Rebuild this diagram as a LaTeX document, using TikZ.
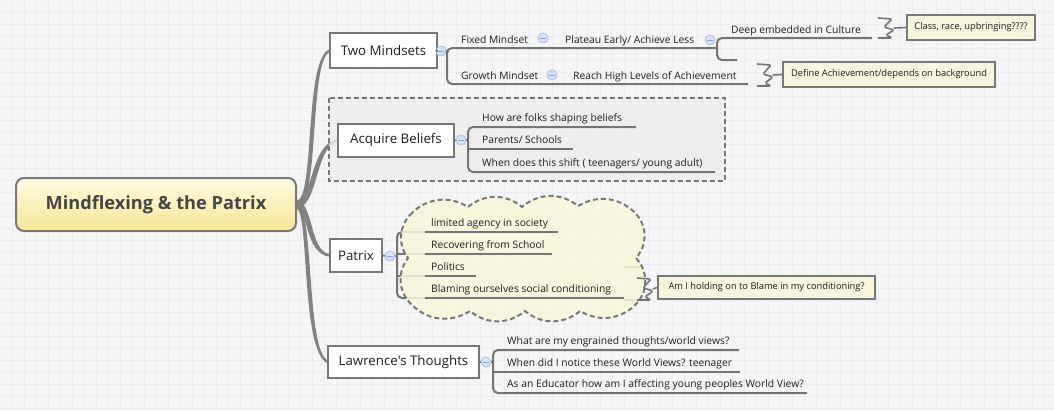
\documentclass[tikz,border=0pt]{standalone}
\usepackage{fontspec}
\setmainfont{Open Sans}[Ligatures=TeXOff]
\usetikzlibrary{calc}
\definecolor{bgc}{HTML}{F5F5F5}
\definecolor{gridc}{HTML}{E6EDF4}
\definecolor{lc}{HTML}{747474}
\definecolor{bc}{HTML}{777777}
\definecolor{tc}{HTML}{1E1E1E}
\definecolor{rootc}{HTML}{454545}
\definecolor{rtop}{HTML}{FEFBE3}
\definecolor{rbot}{HTML}{F6E695}
\definecolor{callfill}{HTML}{F6F4DC}
\definecolor{cloudfill}{HTML}{F8F6DA}
\definecolor{boundfill}{HTML}{EDEDED}
\definecolor{cfill}{HTML}{D8E3F7}
\definecolor{cdraw}{HTML}{A9BEE6}
\definecolor{cminus}{HTML}{86A3DA}
\definecolor{trunkc}{HTML}{828282}
\pgfdeclarelayer{back}
\pgfdeclarelayer{mid}
\pgfdeclarelayer{bound}
\pgfsetlayers{back,mid,bound,main}
\tikzset{
  conn/.style={draw=lc, line width=2pt, rounded corners=5pt},
  trunk/.style={fill=trunkc},
  root/.style={draw=bc, line width=2pt, rounded corners=8pt, top color=rtop, bottom color=rbot,
    minimum width=280pt, minimum height=53pt, inner sep=0pt, text=rootc,
    font=\bfseries\fontsize{18.2}{20}\selectfont},
  topic/.style={draw=bc, line width=2pt, fill=white, inner sep=0pt, text=tc,
    font=\fontsize{13.3}{15}\selectfont},
  sub/.style={anchor=base west, inner sep=0pt, text=tc, font=\fontsize{10.3}{12}\selectfont},
  callout/.style={draw=bc, line width=2pt, fill=callfill, inner sep=0pt, text=tc,
    font=\fontsize{9.3}{11}\selectfont},
  coll/.style={circle, minimum size=10pt, inner sep=0pt, fill=cfill, draw=cdraw, line width=0.8pt,
    path picture={\draw[cminus, line width=1pt] ([xshift=-2.6pt]path picture bounding box.center) -- ([xshift=2.6pt]path picture bounding box.center);}},
  zz/.style={draw=lc, line width=1.6pt, rounded corners=1.5pt},
  boundary/.style={draw=bc, line width=2pt, dash pattern=on 5pt off 3pt, fill=boundfill, fill opacity=0.8},
  cloudb/.style={draw=bc, line width=2pt, dash pattern=on 5pt off 3pt, fill=cloudfill, fill opacity=0.85}
}
\newcommand\myzig[4]{% name, x0, ytop, ybot
  \coordinate (#1) at ({#2+16},{(#3+#4)/2});
  \draw[zz] (#2,#3) -- ({#2+14},{#3+1}) -- ({#2+6},{(#3+#4)/2-1}) -- ({#2+16},{(#3+#4)/2+2})
    -- ({#2+8},{#4-3}) -- ({#2+14},{#4}) -- (#2,#4);
}
% tapered trunk connector: target, c1x, c1y, c2x, c2y, sign (-1 up, 1 down)
\newcommand\ribbon[6]{%
  \fill[trunk] ($(root.east)+(-1,-3.6)$) .. controls ({#2+#6*2.5},{#3-3.6}) and ({#4+#6*2.5},{#5-1}) .. ($(#1.west)+(1,-1.4)$)
    -- ($(#1.west)+(1,1.4)$) .. controls ({#4-#6*2.5},{#5+1}) and ({#2-#6*2.5},{#3+3.6}) .. ($(root.east)+(-1,3.6)$) -- cycle;
}
\begin{document}
\begin{tikzpicture}[x=1pt,y=-1pt]
\useasboundingbox (0,0) rectangle (1054,410);
\begin{pgfonlayer}{back}
\fill[bgc] (0,0) rectangle (1054,410);
\foreach \i in {12,24,...,1050} \draw[gridc,line width=0.7pt] (\i,0) -- (\i,410);
\foreach \j in {12,24,...,408} \draw[gridc,line width=0.7pt] (0,\j) -- (1054,\j);
\end{pgfonlayer}

% root and main topics
\node[root] (root) at (156,204.5) {Mindflexing \& the Patrix};
\node[topic, minimum width=107pt, minimum height=35pt] (tm) at (383.5,50.5) {Two Mindsets};
\node[topic, minimum width=116pt, minimum height=33pt] (ab) at (396,140.5) {Acquire Beliefs};
\node[topic, minimum width=52pt, minimum height=33pt] (pa) at (356,255.5) {Patrix};
\node[topic, minimum width=151pt, minimum height=32pt] (lt) at (403.5,362) {Lawrence's Thoughts};

\begin{pgfonlayer}{mid}
\ribbon{tm}{318}{205}{306}{58}{-1}
\ribbon{ab}{316}{205}{312}{145}{-1}
\ribbon{pa}{312}{205}{306}{252}{1}
\ribbon{lt}{312}{205}{303}{352}{1}
\end{pgfonlayer}

% ---------- Two Mindsets ----------
\coordinate (fmE) at (717,48);
\coordinate (gmE) at (748,84);
\draw[conn] (fmE) -- (447,48) -- (447,84) -- (gmE);
\node[coll] (c1) at (441,51) {};
\draw[conn] (tm.east) -- (c1.west);
\draw[conn] (c1.east) -- (447,51);
\node[sub] (fm) at (461,43.5) {Fixed Mindset};
\node[coll] (c2) at (543,38) {};
\node[sub] (pe) at (565,43.5) {Plateau Early/ Achieve Less};
\coordinate (deE) at (872,38);
\coordinate (stE) at (737,60);
\draw[conn] (deE) -- (717,38) -- (717,60) -- (stE);
\node[coll] (c3) at (710,40) {};
\node[sub] (de) at (731,33) {Deep embedded in Culture};
\myzig{z1}{878}{18}{38}
\node[callout, minimum width=128pt, minimum height=25pt] (k1) at (971,27.5) {Class, race, upbringing????};
\draw[zz] (z1) -- (k1.west);
\node[sub] (gm) at (461,79.5) {Growth Mindset};
\node[coll] (c4) at (552,75) {};
\node[sub] (rh) at (573,79.5) {Reach High Levels of Achievement};
\myzig{z2}{757}{64}{86}
\node[callout, minimum width=212pt, minimum height=25pt] (k2) at (889,74.5) {Define Achievement/depends on background};
\draw[zz] (z2) -- (k2.west);

% ---------- Acquire Beliefs ----------
\begin{pgfonlayer}{bound}
\draw[boundary] (329,98) rectangle (725,181);
\end{pgfonlayer}
\coordinate (a1E) at (636,127);
\coordinate (a2E) at (573,149);
\coordinate (a3E) at (715,172);
\draw[conn] (a1E) -- (468,127) -- (468,172) -- (a3E);
\draw[conn] (468,149) -- (a2E);
\node[coll] (c5) at (461,140) {};
\draw[conn] (ab.east) -- (c5.west);
\draw[conn] (c5.east) -- (468,140);
\node[sub] (a1) at (482,121.5) {How are folks shaping beliefs};
\node[sub] (a2) at (482,143.5) {Parents/ Schools};
\node[sub] (a3) at (482,166.5) {When does this shift ( teenagers/ young adult)};

% ---------- Patrix ----------
\begin{pgfonlayer}{mid}
\draw[conn] (425,232) -- (397,232) -- (397,298) -- (425,298);
\draw[conn] (397,254) -- (425,254);
\draw[conn] (397,276) -- (425,276);
\draw[conn] (pa.east) -- (397,256);
\draw[lc, line width=1.6pt] (624,267) -- (640,267);
\draw[lc, line width=1.6pt] (624,300) -- (640,300);
\end{pgfonlayer}
\begin{pgfonlayer}{bound}
\draw[cloudb] (410,215) to[bend left=40] (468,207) to[bend left=40] (522,207)
  to[bend left=40] (578,206) to[bend left=40] (637,215) to[bend left=40] (636,258)
  to[bend left=40] (638,302) to[bend left=40] (580,311) to[bend left=40] (525,311)
  to[bend left=40] (470,311) to[bend left=40] (410,303) to[bend left=40] (408,258)
  to[bend left=40] cycle;
\end{pgfonlayer}
\node[coll] (c6) at (390,256) {};
\coordinate (p1E) at (558,232);
\coordinate (p2E) at (552,254);
\coordinate (p3E) at (476,276);
\coordinate (p4E) at (624,298);
\draw[conn] (425,232) -- (p1E);
\draw[conn] (425,254) -- (p2E);
\draw[conn] (425,276) -- (p3E);
\draw[conn] (425,298) -- (p4E);
\node[sub] (p1) at (431,226.5) {limited agency in society};
\node[sub] (p2) at (431,248.5) {Recovering from School};
\node[sub] (p3) at (431,270.5) {Politics};
\node[sub] (p4) at (431,292.5) {Blaming ourselves social conditioning};
\myzig{z3}{637}{278}{300}
\node[callout, minimum width=217pt, minimum height=23pt] (k3) at (766.5,287.5) {Am I holding on to Blame in my conditioning?};
\draw[zz] (z3) -- (k3.west);

% ---------- Lawrence's Thoughts ----------
\coordinate (l1E) at (739,350);
\coordinate (l2E) at (740,372);
\coordinate (l3E) at (807,393);
\draw[conn] (l1E) -- (493,350) -- (493,393) -- (l3E);
\draw[conn] (493,372) -- (l2E);
\node[coll] (c7) at (486,362) {};
\draw[conn] (lt.east) -- (c7.west);
\draw[conn] (c7.east) -- (493,362);
\node[sub] (l1) at (507,344.5) {What are my engrained thoughts/world views?};
\node[sub] (l2) at (507,366.5) {When did I notice these World Views? teenager};
\node[sub] (l3) at (507,387.5) {As an Educator how am I affecting young peoples World View?};
\end{tikzpicture}
\end{document}
